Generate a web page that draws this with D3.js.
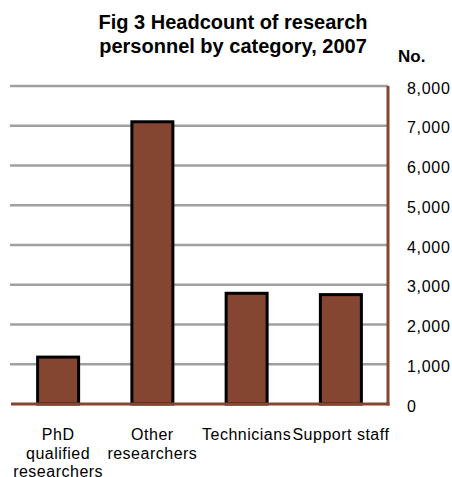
<!DOCTYPE html>
<html><head><meta charset="utf-8">
<script src="https://cdn.jsdelivr.net/npm/d3@7"></script>
<style>body{margin:0;background:#fff;}svg{display:block;font-family:"Liberation Sans",Arial,sans-serif;}</style>
</head><body>
<script>
const categories = [["PhD","qualified","researchers"],["Other","researchers"],["Technicians"],["Support staff"]];
const values = [1180, 7100, 2785, 2752];
const tickValues = [0,1000,2000,3000,4000,5000,6000,7000,8000];
const titleLines = ["Fig 3 Headcount of research","personnel by category, 2007"];
const unitLabel = "No.";

const W=452,H=477;
const svg=d3.select("body").append("svg").attr("width",W).attr("height",H);
const x=d3.scaleBand().domain(d3.range(categories.length)).range([11,388]).paddingInner(0.565).paddingOuter(0.2825);
const y=d3.scaleLinear().domain([0,8000]).range([404,86]);

// gridlines
svg.append("g").selectAll("line").data(tickValues.filter(d=>d>0)).join("line")
  .attr("x1",10).attr("x2",388).attr("y1",d=>y(d)).attr("y2",d=>y(d))
  .attr("stroke","#a0a0a0").attr("stroke-width",2.5);

// bars
svg.append("g").selectAll("rect").data(values).join("rect")
  .attr("x",(d,i)=>x(i)).attr("width",x.bandwidth())
  .attr("y",d=>y(d)).attr("height",d=>y(0)-y(d))
  .attr("fill","#844631").attr("stroke","#000").attr("stroke-width",3);

// axes lines
svg.append("line").attr("x1",11).attr("x2",389.5).attr("y1",y(0)).attr("y2",y(0)).attr("stroke","#844631").attr("stroke-width",3);
svg.append("line").attr("x1",388).attr("x2",388).attr("y1",y(8000)).attr("y2",y(0)+1.5).attr("stroke","#844631").attr("stroke-width",3);

// tick labels
const fmt=d3.format(",");
svg.append("g").selectAll("text").data(tickValues).join("text")
  .attr("x",407).attr("y",d=>y(d)+7.5).attr("font-size",16).attr("letter-spacing",0.7).attr("fill","#000")
  .text(d=>fmt(d));

// category labels
categories.forEach((lines,i)=>{
  const t=svg.append("text").attr("text-anchor","middle").attr("font-size",16).attr("letter-spacing",0.5).attr("fill","#000");
  lines.forEach((l,j)=>t.append("tspan").attr("x",x(i)+x.bandwidth()/2).attr("y",440+j*18.5).text(l));
});

// title
const tt=svg.append("text").attr("text-anchor","middle").attr("font-size",20).attr("font-weight","bold");
titleLines.forEach((l,j)=>tt.append("tspan").attr("x",233).attr("y",29+j*24).text(l));
svg.append("text").attr("x",398).attr("y",62).attr("font-size",17).attr("font-weight","bold").text(unitLabel);
</script>
</body></html>
